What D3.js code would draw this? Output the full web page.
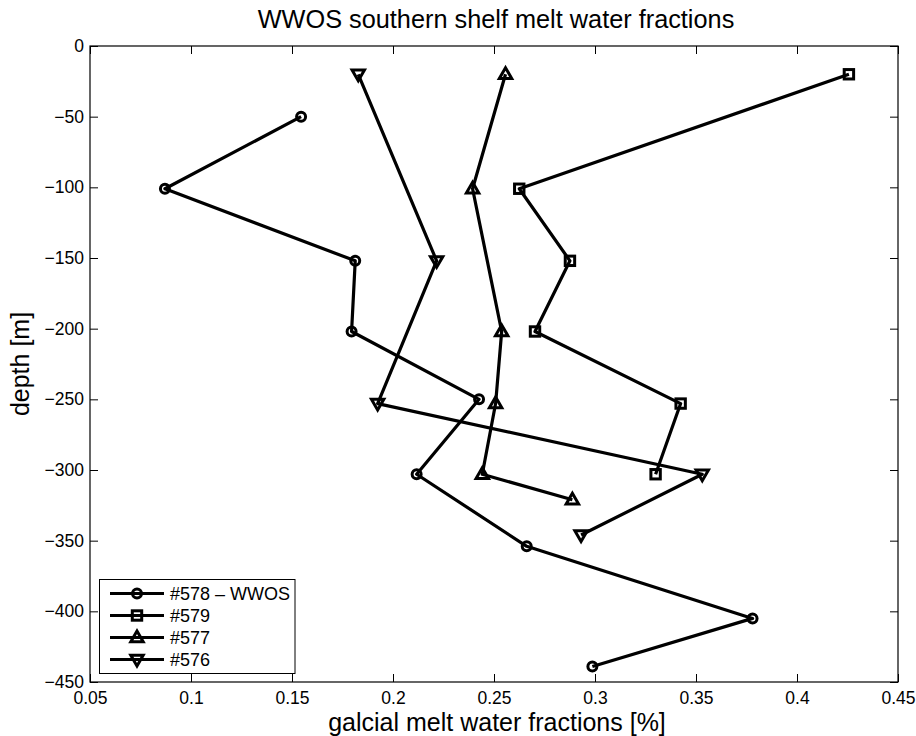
<!DOCTYPE html>
<html>
<head>
<meta charset="utf-8">
<script src="https://cdn.jsdelivr.net/npm/d3@7"></script>
<style>
  html, body { margin: 0; padding: 0; background: #fff; }
  svg { display: block; font-family: "Liberation Sans", Arial, Helvetica, sans-serif; }
</style>
</head>
<body>
<svg id="chart" width="916" height="736"></svg>
<script>
// Melt water fraction profiles per station (fraction %, depth m)
const st578Frac  = [0.1545, 0.0871, 0.1813, 0.1795, 0.2426, 0.2117, 0.2662, 0.378, 0.2987];
const st578Depth = [-50, -101, -152, -202, -250, -303, -354, -405, -439];

const st579Frac  = [0.4257, 0.2625, 0.2876, 0.2703, 0.3424, 0.330];
const st579Depth = [-20, -101, -152, -202, -253, -303];

const st577Frac  = [0.2557, 0.2394, 0.2538, 0.2508, 0.2442, 0.2888];
const st577Depth = [-20, -101, -202, -253, -303, -321];

const st576Frac  = [0.1828, 0.2216, 0.1924, 0.3531, 0.2931];
const st576Depth = [-20, -152, -253, -303, -346];

const seriesNames = ["#578 \u2013 WWOS", "#579", "#577", "#576"];
const xTicks = [0.05, 0.1, 0.15, 0.2, 0.25, 0.3, 0.35, 0.4, 0.45];
const yTicks = [0, -50, -100, -150, -200, -250, -300, -350, -400, -450];

const series = [
  { name: seriesNames[0], marker: "circle",   x: st578Frac, y: st578Depth },
  { name: seriesNames[1], marker: "square",   x: st579Frac, y: st579Depth },
  { name: seriesNames[2], marker: "triUp",    x: st577Frac, y: st577Depth },
  { name: seriesNames[3], marker: "triDown",  x: st576Frac, y: st576Depth }
];

const svg = d3.select("#chart");
const plotL = 90, plotR = 898, plotT = 46, plotB = 682;

const x = d3.scaleLinear().domain([0.05, 0.45]).range([plotL, plotR]);
const y = d3.scaleLinear().domain([0, -450]).range([plotT, plotB]);

const fmt = v => (v < 0 ? "\u2212" + Math.abs(v) : String(v));
const fmtX = v => String(+v.toFixed(2));

// Axes with inward ticks on all four sides
const tickLen = 8;
const gx = svg.append("g").attr("transform", `translate(0,${plotB})`)
  .call(d3.axisBottom(x).tickValues(xTicks).tickFormat(fmtX).tickSizeInner(-tickLen).tickSizeOuter(0).tickPadding(10));
const gxTop = svg.append("g").attr("transform", `translate(0,${plotT})`)
  .call(d3.axisTop(x).tickValues(xTicks).tickFormat("").tickSizeInner(-tickLen).tickSizeOuter(0));
const gy = svg.append("g").attr("transform", `translate(${plotL},0)`)
  .call(d3.axisLeft(y).tickValues(yTicks).tickFormat(fmt).tickSizeInner(-tickLen).tickSizeOuter(0).tickPadding(6));
const gyRight = svg.append("g").attr("transform", `translate(${plotR},0)`)
  .call(d3.axisRight(y).tickValues(yTicks).tickFormat("").tickSizeInner(-tickLen).tickSizeOuter(0));

[gx, gxTop, gy, gyRight].forEach(g => {
  g.select(".domain").remove();
  g.selectAll("line").attr("stroke", "#000").attr("stroke-width", 1);
  g.selectAll("text").attr("fill", "#000").attr("font-size", 17.5).attr("font-family", null);
});

// plot box
svg.append("rect")
  .attr("x", plotL).attr("y", plotT)
  .attr("width", plotR - plotL).attr("height", plotB - plotT)
  .attr("fill", "none").attr("stroke", "#000").attr("stroke-width", 1.2);

// Marker shapes (unfilled, the line runs through them)
function drawMarker(g, type) {
  const sw = 3;
  if (type === "circle") {
    g.append("circle").attr("r", 4.5).attr("fill", "none").attr("stroke", "#000").attr("stroke-width", sw);
  } else if (type === "square") {
    g.append("rect").attr("x", -4.7).attr("y", -4.7).attr("width", 9.4).attr("height", 9.4)
      .attr("fill", "none").attr("stroke", "#000").attr("stroke-width", sw);
  } else if (type === "triUp") {
    g.append("path").attr("d", "M0,-6.5 L6.2,4.2 L-6.2,4.2 Z")
      .attr("fill", "none").attr("stroke", "#000").attr("stroke-width", sw).attr("stroke-linejoin", "miter");
  } else {
    g.append("path").attr("d", "M0,6.5 L6.2,-4.2 L-6.2,-4.2 Z")
      .attr("fill", "none").attr("stroke", "#000").attr("stroke-width", sw).attr("stroke-linejoin", "miter");
  }
}

const line = d3.line().x(d => x(d[0])).y(d => y(d[1]));

series.forEach(s => {
  const pts = s.x.map((v, i) => [v, s.y[i]]);
  svg.append("path").datum(pts).attr("d", line)
    .attr("fill", "none").attr("stroke", "#000").attr("stroke-width", 3.2).attr("stroke-linejoin", "round");
  pts.forEach(p => {
    const g = svg.append("g").attr("transform", `translate(${x(p[0])},${y(p[1])})`);
    drawMarker(g, s.marker);
  });
});

// Legend
const leg = svg.append("g");
leg.append("rect").attr("x", 99.5).attr("y", 579.5).attr("width", 195.5).attr("height", 94)
  .attr("fill", "#fff").attr("stroke", "#000").attr("stroke-width", 1);
series.forEach((s, i) => {
  const cy = 593.5 + i * 22;
  leg.append("line").attr("x1", 110).attr("x2", 164).attr("y1", cy).attr("y2", cy)
    .attr("stroke", "#000").attr("stroke-width", 3.2);
  drawMarker(leg.append("g").attr("transform", `translate(137,${cy})`), s.marker);
  leg.append("text").attr("x", 170).attr("y", cy).attr("dy", "0.36em")
    .attr("font-size", 18).attr("fill", "#000").text(s.name);
});

// Titles
svg.append("text").attr("x", (plotL + plotR) / 2 + 2).attr("y", 28)
  .attr("text-anchor", "middle").attr("font-size", 25.3).text("WWOS southern shelf melt water fractions");
svg.append("text").attr("x", (plotL + plotR) / 2 + 3).attr("y", 731)
  .attr("text-anchor", "middle").attr("font-size", 25).text("galcial melt water fractions [%]");
svg.append("text").attr("transform", `translate(29,${(plotT + plotB) / 2}) rotate(-90)`)
  .attr("text-anchor", "middle").attr("font-size", 25).text("depth [m]");
</script>
</body>
</html>
